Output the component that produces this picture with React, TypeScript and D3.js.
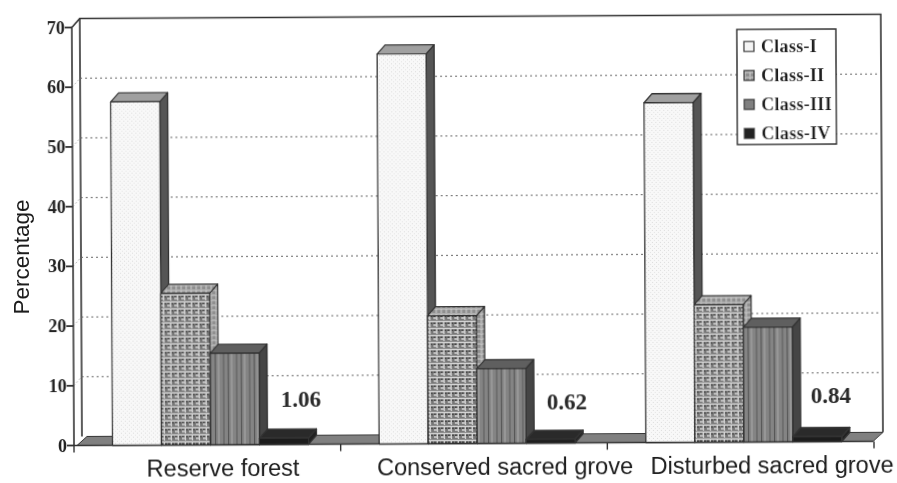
import React from "react";
import * as d3 from "d3";

const categories = ["Reserve forest", "Conserved sacred grove", "Disturbed sacred grove"];
const seriesNames = ["Class-I", "Class-II", "Class-III", "Class-IV"];
const classI = [57.5, 65.3, 56.9];
const classII = [25.4, 21.4, 23.0];
const classIII = [15.3, 12.5, 19.2];
const classIV = [1.06, 0.62, 0.84];
const barLabels = ["1.06", "0.62", "0.84"];
const yTicks = [0, 10, 20, 30, 40, 50, 60, 70];

const layers = [classI, classII, classIII, classIV];
const W = 897, H = 483;
const x0 = 76, x1 = 876, yBase = 445.5, yTop = 27.5;
const dx = 8, dy = -9;
const labelCenters = [223, 505, 772];
const valueLabelX = [301, 567, 831];
const valueLabelY = [408, 412, 407];

const faces = [
  { front: "url(#pI)", side: "#555", top: "#a0a0a0" },
  { front: "url(#pII)", side: "url(#pIIs)", top: "url(#pIIs)" },
  { front: "url(#pIII)", side: "#444", top: "#5e5e5e" },
  { front: "#1d1d1d", side: "#222", top: "#2c2c2c" },
];

const serif = "'Liberation Serif', serif";
const sans = "'Liberation Sans', sans-serif";
const ink = "#333";

export default function App() {
  const y = d3.scaleLinear().domain([0, 70]).range([yBase, yTop]);
  const xGroup = d3.scaleBand<string>().domain(categories).range([x0, x1]);
  const xBar = d3.scaleBand<string>().domain(seriesNames).range([36.5, 232.5]);
  const bw = xBar.bandwidth();
  const poly = (p: number[][]) => p.map((a) => a.join(",")).join(" ");

  return (
    <svg width={W} height={H} style={{ position: "absolute", left: 0, top: 0, background: "#fff" }}>
      <defs>
        <filter id="soft" x="-2%" y="-2%" width="104%" height="104%">
          <feGaussianBlur stdDeviation="0.55" />
        </filter>
        <pattern id="pI" width="4" height="4" patternUnits="userSpaceOnUse">
          <rect width="4" height="4" fill="#f8f8f8" />
          <rect x="1" y="1" width="1" height="1" fill="#dcdcdc" />
          <rect x="3" y="3" width="1" height="1" fill="#e4e4e4" />
        </pattern>
        <pattern id="pII" width="7" height="7" patternUnits="userSpaceOnUse">
          <rect width="7" height="7" fill="#777" />
          <path d="M0 1.5H7M0 5H3.5M3.5 1.5V7" stroke="#d4d4d4" strokeWidth="1.3" />
          <path d="M1 2.5V4M5 2.5V4" stroke="#3a3a3a" strokeWidth="1.6" />
        </pattern>
        <pattern id="pIIs" width="5" height="5" patternUnits="userSpaceOnUse">
          <rect width="5" height="5" fill="#8f8f8f" />
          <path d="M0 1H5M2 1V5" stroke="#d8d8d8" strokeWidth="0.9" />
        </pattern>
        <pattern id="pIII" width="13" height="4" patternUnits="userSpaceOnUse">
          <rect width="13" height="4" fill="#848484" />
          <rect x="2" width="2" height="4" fill="#6e6e6e" />
          <rect x="7" width="1.2" height="4" fill="#555" />
          <rect x="10" width="2" height="4" fill="#979797" />
        </pattern>
      </defs>
      <g filter="url(#soft)" transform={`rotate(-0.3 ${x0} ${yBase})`}>
        {/* back wall */}
        <polyline
          points={poly([[x0 + dx - 2, y(0) + dy], [x0 + dx - 2, y(70) + dy], [x1 + dx - 1, y(70) + dy], [x1 + dx - 1, y(0) + dy]])}
          fill="none" stroke={ink} strokeWidth={1.6}
        />
        {yTicks.slice(1, -1).map((t) => (
          <g key={t}>
            <line x1={x0 + dx - 2} x2={x1 + dx - 2} y1={y(t) + dy} y2={y(t) + dy} stroke="#666" strokeWidth={1} strokeDasharray="2 3" />
            <line x1={x0 - 2} x2={x0 + dx - 2} y1={y(t)} y2={y(t) + dy} stroke="#aaa" strokeWidth={0.8} strokeDasharray="2 2" />
          </g>
        ))}
        <line x1={x0 - 2} x2={x0 + dx - 2} y1={y(70)} y2={y(70) + dy} stroke={ink} strokeWidth={1.6} />
        {/* floor */}
        <polygon
          points={poly([[x0 + 1, y(0)], [x0 + dx + 3, y(0) + dy], [x1 + dx - 1, y(0) + dy], [x1 - 3, y(0)]])}
          fill="#808080" stroke={ink} strokeWidth={1}
        />
        {/* y axis */}
        <line x1={x0 - 2} x2={x0 - 2} y1={y(70)} y2={y(0)} stroke={ink} strokeWidth={1.6} />
        {yTicks.map((t) => (
          <g key={t}>
            <line x1={x0 - 9} x2={x0 - 2} y1={y(t)} y2={y(t)} stroke={ink} strokeWidth={1.8} />
            <text x={x0 - 9} y={y(t) + 6} textAnchor="end" fontFamily={serif} fontWeight="bold" fontSize={18} fill="#222">{t}</text>
          </g>
        ))}
        {/* x axis */}
        <line x1={x0 - 2} x2={x1 - 3} y1={y(0)} y2={y(0)} stroke={ink} strokeWidth={1.6} />
        {[0, 1, 2, 3].map((i) => {
          const tx = x0 - 2 + i * xGroup.bandwidth();
          return <line key={i} x1={tx} x2={tx} y1={y(0)} y2={y(0) + 7} stroke={ink} strokeWidth={1.4} />;
        })}
        {/* bars */}
        {categories.map((c, gi) =>
          seriesNames.map((s, si) => {
            const v = layers[si][gi];
            const l = (xGroup(c) as number) + (xBar(s) as number);
            const r = l + bw;
            const t = y(v);
            const f = faces[si];
            return (
              <g key={c + s} stroke={ink} strokeWidth={1.3} strokeLinejoin="round">
                <polygon points={poly([[r, y(0)], [r + dx, y(0) + dy], [r + dx, t + dy], [r, t]])} fill={f.side} />
                <polygon points={poly([[l, t], [l + dx, t + dy], [r + dx, t + dy], [r, t]])} fill={f.top} />
                <rect x={l} y={t} width={bw} height={y(0) - t} fill={f.front} />
              </g>
            );
          })
        )}
        {/* value labels */}
        {barLabels.map((b, i) => (
          <text key={b} x={valueLabelX[i]} y={valueLabelY[i]} textAnchor="middle" fontFamily={serif} fontWeight="bold" fontSize={23} fill="#2a2a2a">{b}</text>
        ))}
        {/* category labels */}
        {categories.map((c, i) => (
          <text key={c} x={labelCenters[i]} y={476.5} textAnchor="middle" fontFamily={sans} fontSize={23.5} fill="#1a1a1a">{c}</text>
        ))}
        {/* legend */}
        <rect x={739} y={33} width={99} height={115} fill="#fff" stroke={ink} strokeWidth={1.5} />
        {seriesNames.map((s, i) => {
          const ly = 50 + i * 29;
          return (
            <g key={s}>
              <rect x={746} y={ly - 5} width={10} height={10} fill={i === 0 ? "#f4f4f4" : i === 1 ? "url(#pIIs)" : i === 2 ? "#808080" : "#222"} stroke={ink} strokeWidth={1.2} />
              <text x={763} y={ly + 6} fontFamily={serif} fontWeight="bold" fontSize={18} letterSpacing={0.3} fill="#1f1f1f">{s}</text>
            </g>
          );
        })}
      </g>
      <text transform="translate(29 257) rotate(-90)" textAnchor="middle" fontFamily={sans} fontSize={22.5} fill="#1a1a1a" filter="url(#soft)">Percentage</text>
    </svg>
  );
}
